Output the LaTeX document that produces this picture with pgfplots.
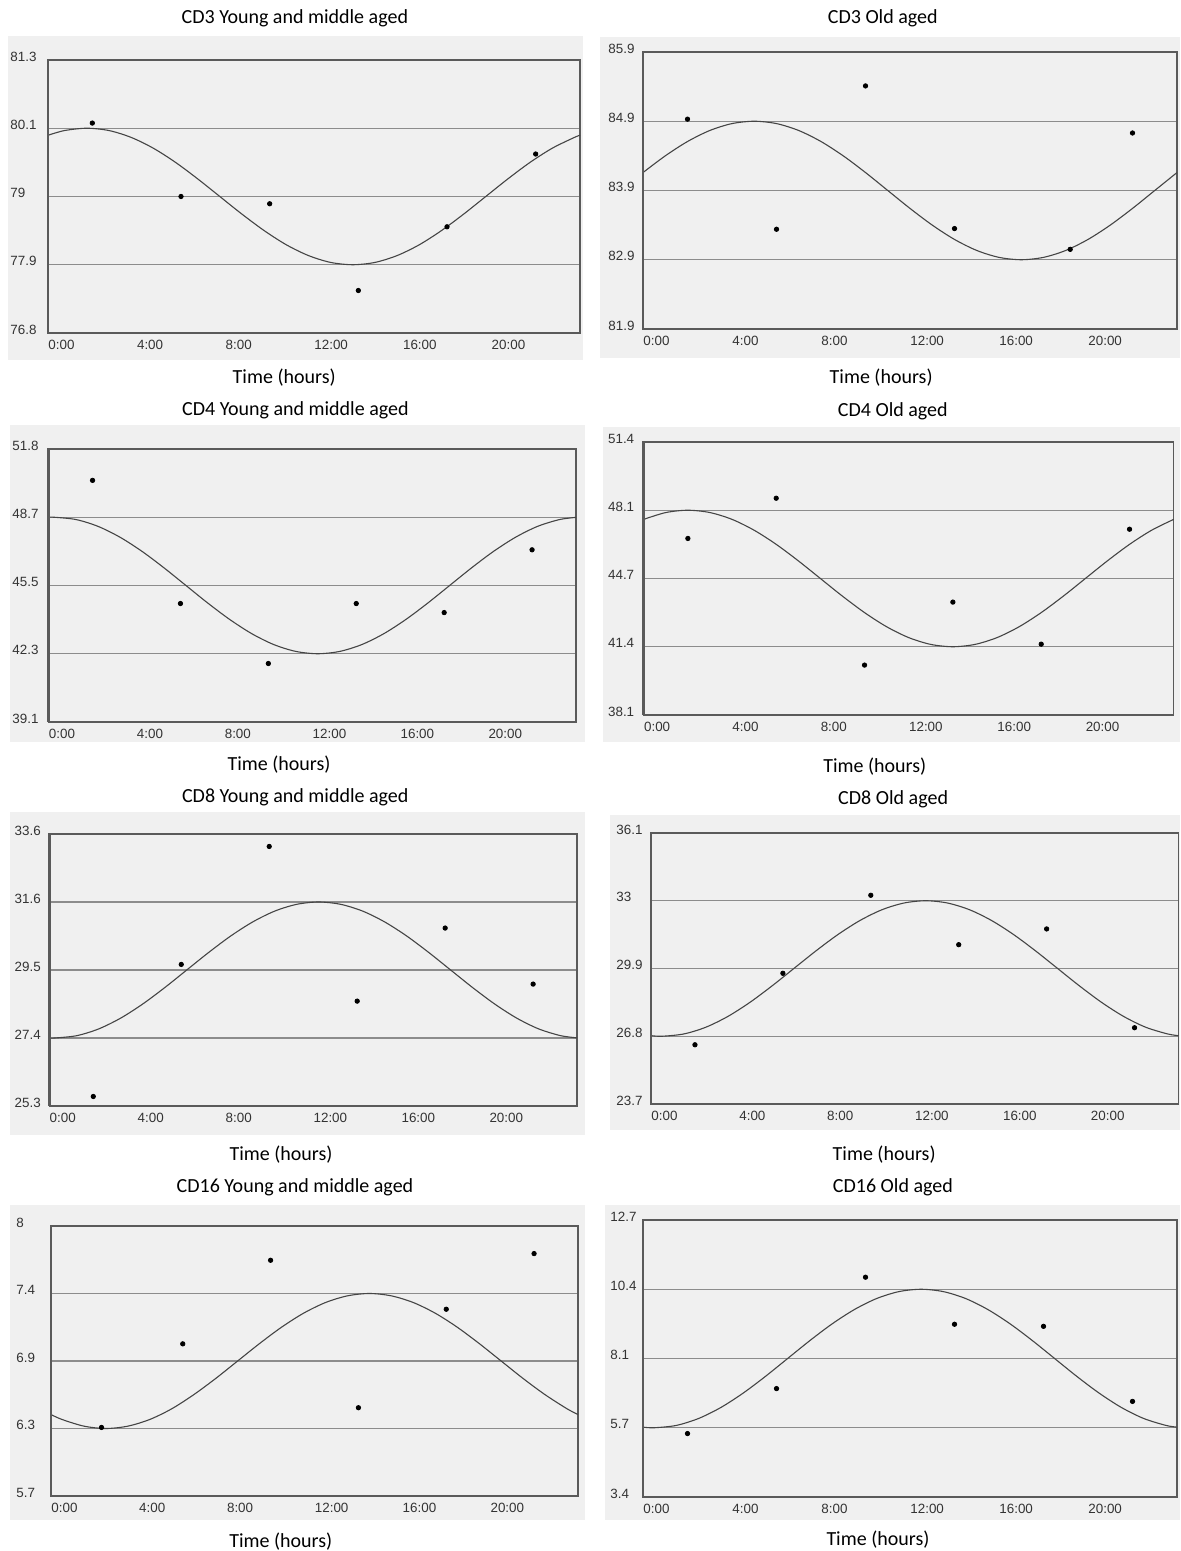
\documentclass[border=0pt]{standalone}
\usepackage{pgfplots}
\pgfplotsset{compat=1.18}
\usepackage{fontspec}
\setmainfont{Carlito}
\newfontfamily\arialf{Liberation Sans}
\definecolor{bg}{HTML}{F0F0F0}
\definecolor{frm}{HTML}{5A5A5A}
\definecolor{grd}{HTML}{8C8C8C}
\definecolor{crv}{HTML}{454545}
\definecolor{tck}{HTML}{333333}
\pgfplotsset{
 cosi/.style={
  scale only axis, xmin=0, xmax=24,
  xtick={0,4,8,12,16,20}, xticklabels={0:00,4:00,8:00,12:00,16:00,20:00},
  tick style={draw=none},
  ymajorgrids, grid style={grd, line width=0.6pt},
  axis line style={frm, line width=0.75pt},
  ticklabel style={font=\arialf\fontsize{6.7}{8}\selectfont, text=tck, inner sep=0pt},
  xticklabel style={anchor=north west, yshift=-3.5pt},
  title style={font=\fontsize{10}{12}\selectfont, anchor=center, inner sep=0pt},
  xlabel style={font=\fontsize{10}{12}\selectfont, anchor=center, inner sep=0pt},
  xlabel={Time (hours)},
  clip=false,
 },
 ylab/.style={yticklabel style={anchor=west, yshift=1.75pt, xshift=-#1}},
 pos/.style n args={4}{title style={at={(axis description cs:#1,1)}, yshift=#2-6pt},
   xlabel style={at={(axis description cs:#3,0)}, yshift=-#4-1pt}},
}
\newcommand{\thickframe}{\draw[frm, line width=1.3pt] (rel axis cs:0,0) -- (rel axis cs:0,1) -- (rel axis cs:1,1);}
\begin{document}
\begin{tikzpicture}
\useasboundingbox (0,0) rectangle (590pt,775.5pt);
\fill[white] (0,0) rectangle (590pt,775.5pt);
\fill[bg] (4pt,595.5pt) rectangle (291.5pt,757.5pt);
\fill[bg] (300pt,596.5pt) rectangle (590pt,757pt);
\fill[bg] (5pt,404.5pt) rectangle (292.5pt,563pt);
\fill[bg] (301.5pt,404.5pt) rectangle (590pt,562pt);
\fill[bg] (5pt,208pt) rectangle (292.5pt,369.5pt);
\fill[bg] (305pt,210.5pt) rectangle (590pt,368pt);
\fill[bg] (5pt,15.5pt) rectangle (292.5pt,173pt);
\fill[bg] (302.5pt,15.5pt) rectangle (590pt,173pt);

% Panel 1
\begin{axis}[cosi, at={(24pt,609pt)}, anchor=south west, width=266pt, height=136.5pt,
  ymin=76.8, ymax=81.3, ytick={76.8,77.925,79.05,80.175,81.3}, yticklabels={76.8,77.9,79,80.1,81.3},
  ylab=19pt, title={CD3 Young and middle aged}, pos={0.464}{21pt}{0.444}{21.5pt}]
\addplot[smooth, crv, line width=0.55pt] coordinates {(0,80.059)(0.75,80.137)(1.75,80.175)(2.75,80.137)(3.75,80.024)(4.75,79.846)(5.75,79.613)(6.75,79.341)(7.75,79.05)(8.75,78.759)(9.75,78.488)(10.75,78.254)(11.75,78.076)(12.75,77.963)(13.75,77.925)(14.75,77.963)(15.75,78.076)(16.75,78.254)(17.75,78.488)(18.75,78.759)(19.75,79.05)(20.75,79.341)(21.75,79.613)(22.75,79.846)(23.75,80.024)(24,80.059)};
\addplot[only marks, mark=*, mark size=1.1pt, black] coordinates {(2,80.26)(6,79.05)(10,78.93)(14,77.50)(18,78.55)(22,79.75)};
\thickframe
\end{axis}

% Panel 2
\begin{axis}[cosi, at={(321.5pt,611pt)}, anchor=south west, width=267pt, height=138.5pt,
  ymin=81.9, ymax=85.9, ytick={81.9,82.9,83.9,84.9,85.9}, yticklabels={81.9,82.9,83.9,84.9,85.9},
  ylab=17.5pt, title={CD3 Old aged}, pos={0.449}{17pt}{0.446}{23.5pt}]
\addplot[smooth, crv, line width=0.55pt] coordinates {(0,84.159)(1,84.4)(2,84.607)(3,84.766)(4,84.866)(5,84.9)(6,84.866)(7,84.766)(8,84.607)(9,84.4)(10,84.159)(11,83.9)(12,83.641)(13,83.4)(14,83.193)(15,83.034)(16,82.934)(17,82.9)(18,82.934)(19,83.034)(20,83.193)(21,83.4)(22,83.641)(23,83.9)(24,84.159)};
\addplot[only marks, mark=*, mark size=1.1pt, black] coordinates {(2,84.93)(6,83.34)(10,85.41)(14,83.35)(19.2,83.05)(22,84.73)};
\thickframe
\end{axis}

% Panel 3
\begin{axis}[cosi, at={(24.3pt,414.5pt)}, anchor=south west, width=263.7pt, height=136.5pt,
  ymin=39.1, ymax=51.8, ytick={39.1,42.275,45.45,48.625,51.8}, yticklabels={39.1,42.3,45.5,48.7,51.8},
  ylab=18.3pt, title={CD4 Young and middle aged}, pos={0.468}{19.5pt}{0.437}{20.5pt}]
\addplot[smooth, crv, line width=0.55pt] coordinates {(0,48.618)(0.25,48.625)(1.25,48.517)(2.25,48.2)(3.25,47.695)(4.25,47.038)(5.25,46.272)(6.25,45.45)(7.25,44.628)(8.25,43.863)(9.25,43.205)(10.25,42.7)(11.25,42.383)(12.25,42.275)(13.25,42.383)(14.25,42.7)(15.25,43.205)(16.25,43.863)(17.25,44.628)(18.25,45.45)(19.25,46.272)(20.25,47.038)(21.25,47.695)(22.25,48.2)(23.25,48.517)(24,48.618)};
\addplot[only marks, mark=*, mark size=1.1pt, black] coordinates {(2,50.34)(6,44.61)(10,41.82)(14,44.61)(18,44.19)(22,47.11)};
\thickframe
\end{axis}

% Panel 4
\begin{axis}[cosi, at={(321.85pt,418pt)}, anchor=south west, width=265pt, height=136.5pt,
  ymin=38.1, ymax=51.4, ytick={38.1,41.425,44.75,48.075,51.4}, yticklabels={38.1,41.4,44.7,48.1,51.4},
  ylab=18pt, title={CD4 Old aged}, pos={0.470}{15.5pt}{0.436}{25pt}]
\addplot[smooth, crv, line width=0.55pt] coordinates {(0,47.63)(1,47.962)(2,48.075)(3,47.962)(4,47.63)(5,47.101)(6,46.413)(7,45.611)(8,44.75)(9,43.889)(10,43.088)(11,42.399)(12,41.87)(13,41.538)(14,41.425)(15,41.538)(16,41.87)(17,42.399)(18,43.088)(19,43.889)(20,44.75)(21,45.611)(22,46.413)(23,47.101)(24,47.63)};
\addplot[only marks, mark=*, mark size=1.1pt, black] coordinates {(2,46.70)(6,48.66)(10,40.53)(14,43.60)(18,41.55)(22,47.15)};
\thickframe
\end{axis}

% Panel 5
\begin{axis}[cosi, at={(24.65pt,222.5pt)}, anchor=south west, width=263.9pt, height=136pt,
  ymin=25.3, ymax=33.6, ytick={25.3,27.375,29.45,31.525,33.6}, yticklabels={25.3,27.4,29.5,31.6,33.6},
  ylab=17.5pt, title={CD8 Young and middle aged}, pos={0.466}{18.5pt}{0.439}{23.5pt}]
\addplot[smooth, crv, line width=0.55pt] coordinates {(0,27.379)(0.25,27.375)(1.25,27.446)(2.25,27.653)(3.25,27.983)(4.25,28.413)(5.25,28.913)(6.25,29.45)(7.25,29.987)(8.25,30.488)(9.25,30.917)(10.25,31.247)(11.25,31.454)(12.25,31.525)(13.25,31.454)(14.25,31.247)(15.25,30.917)(16.25,30.488)(17.25,29.987)(18.25,29.45)(19.25,28.913)(20.25,28.413)(21.25,27.983)(22.25,27.653)(23.25,27.446)(24,27.379)};
\addplot[only marks, mark=*, mark size=1.1pt, black] coordinates {(2,25.59)(6,29.62)(10,33.22)(14,28.50)(18,30.73)(22,29.02)};
\thickframe
\end{axis}

% Panel 6
\begin{axis}[cosi, at={(325.5pt,223.5pt)}, anchor=south west, width=263.75pt, height=135.5pt,
  ymin=23.7, ymax=36.1, ytick={23.7,26.8,29.9,33,36.1}, yticklabels={23.7,26.8,29.9,33,36.1},
  ylab=17.5pt, title={CD8 Old aged}, pos={0.459}{17pt}{0.442}{24.5pt}]
\addplot[smooth, crv, line width=0.55pt] coordinates {(0,26.827)(0.5,26.8)(1.5,26.906)(2.5,27.215)(3.5,27.708)(4.5,28.35)(5.5,29.098)(6.5,29.9)(7.5,30.702)(8.5,31.45)(9.5,32.092)(10.5,32.585)(11.5,32.894)(12.5,33.0)(13.5,32.894)(14.5,32.585)(15.5,32.092)(16.5,31.45)(17.5,30.702)(18.5,29.9)(19.5,29.098)(20.5,28.35)(21.5,27.708)(22.5,27.215)(23.5,26.906)(24,26.827)};
\addplot[only marks, mark=*, mark size=1.1pt, black] coordinates {(2,26.41)(6,29.68)(10,33.25)(14,30.99)(18,31.71)(22,27.19)};
\thickframe
\end{axis}

% Panel 7
\begin{axis}[cosi, at={(25.5pt,27.5pt)}, anchor=south west, width=263.5pt, height=135pt,
  ymin=5.7, ymax=8, ytick={5.7,6.275,6.85,7.425,8}, yticklabels={5.7,6.3,6.9,7.4,8},
  ylab=17.5pt, title={CD16 Young and middle aged}, pos={0.463}{19.5pt}{0.436}{22pt}]
\addplot[smooth, crv, line width=0.55pt] coordinates {(0,6.394)(0.5,6.352)(1.5,6.295)(2.5,6.275)(3.5,6.295)(4.5,6.352)(5.5,6.443)(6.5,6.563)(7.5,6.701)(8.5,6.85)(9.5,6.999)(10.5,7.138)(11.5,7.257)(12.5,7.348)(13.5,7.405)(14.5,7.425)(15.5,7.405)(16.5,7.348)(17.5,7.257)(18.5,7.138)(19.5,6.999)(20.5,6.85)(21.5,6.701)(22.5,6.563)(23.5,6.443)(24,6.394)};
\addplot[only marks, mark=*, mark size=1.1pt, black] coordinates {(2.3,6.284)(6,6.996)(10,7.708)(14,6.452)(18,7.291)(22,7.765)};
\thickframe
\end{axis}

% Panel 8
\begin{axis}[cosi, at={(321.5pt,27pt)}, anchor=south west, width=267pt, height=138.5pt,
  ymin=3.4, ymax=12.7, ytick={3.4,5.725,8.05,10.375,12.7}, yticklabels={3.4,5.7,8.1,10.4,12.7},
  ylab=16.5pt, title={CD16 Old aged}, pos={0.468}{16.5pt}{0.44}{20.5pt}]
\addplot[smooth, crv, line width=0.55pt] coordinates {(0,5.745)(0.5,5.725)(1.5,5.804)(2.5,6.037)(3.5,6.406)(4.5,6.888)(5.5,7.448)(6.5,8.05)(7.5,8.652)(8.5,9.213)(9.5,9.694)(10.5,10.064)(11.5,10.296)(12.5,10.375)(13.5,10.296)(14.5,10.064)(15.5,9.694)(16.5,9.213)(17.5,8.652)(18.5,8.05)(19.5,7.448)(20.5,6.888)(21.5,6.406)(22.5,6.037)(23.5,5.804)(24,5.745)};
\addplot[only marks, mark=*, mark size=1.1pt, black] coordinates {(2,5.53)(6,7.04)(10,10.78)(14,9.20)(18,9.13)(22,6.61)};
\thickframe
\end{axis}
\end{tikzpicture}
\end{document}
